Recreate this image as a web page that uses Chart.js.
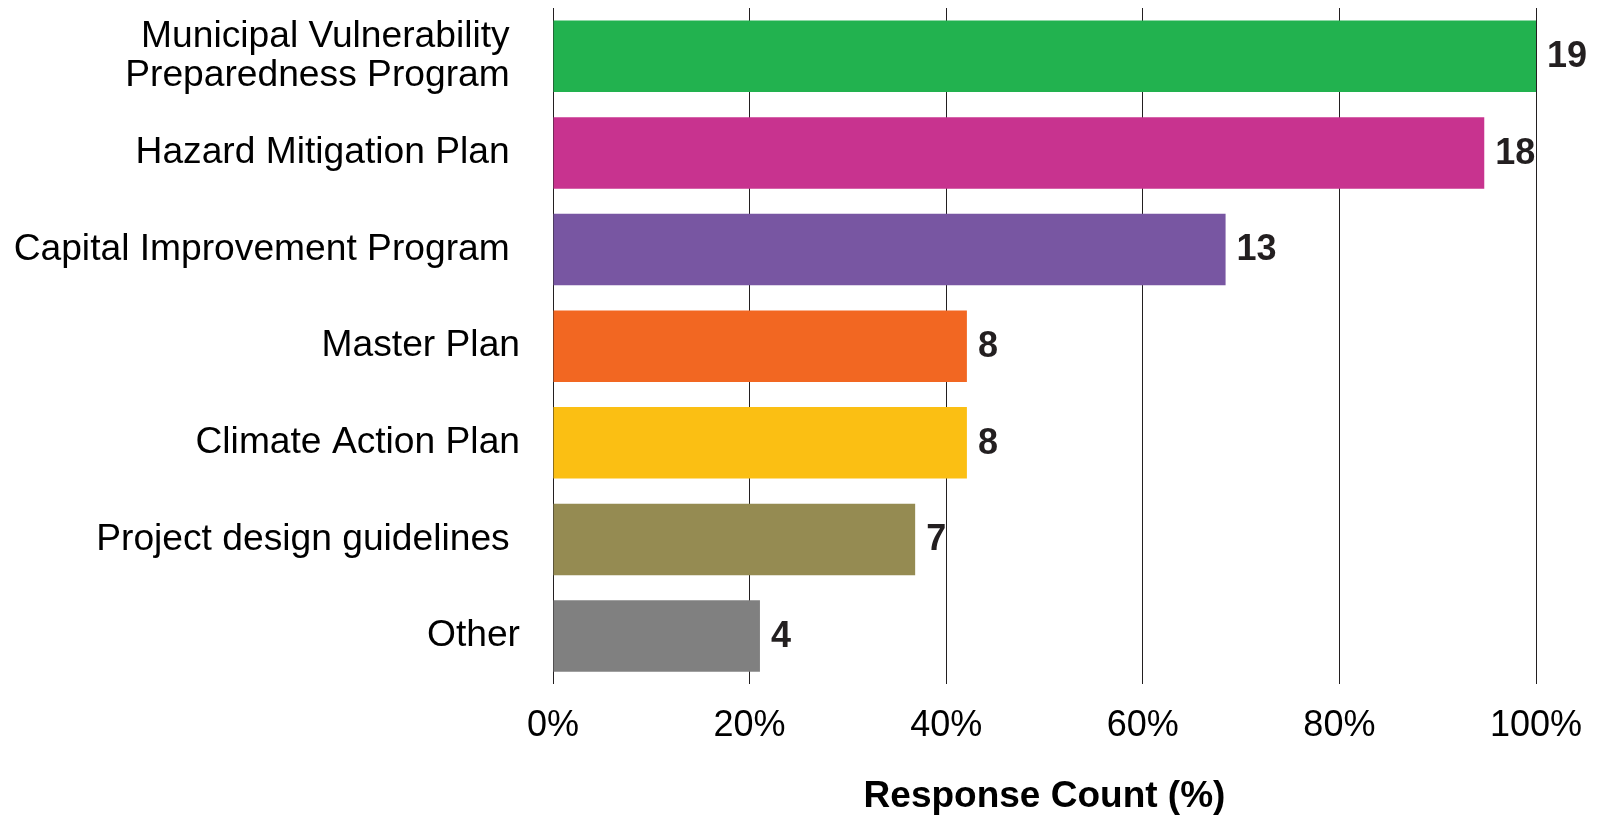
<!DOCTYPE html>
<html>
<head>
<meta charset="utf-8">
<script src="https://cdn.jsdelivr.net/npm/chart.js@4"></script>
<style>
  html, body { margin: 0; padding: 0; background: #fff; }
  #wrap { width: 1597px; height: 816px; }
</style>
</head>
<body>
<div id="wrap"><canvas id="plans"></canvas></div>
<script>
// plan types (trailing spaces kept as in the source labels)
const categories = [
    ['Municipal Vulnerability ', 'Preparedness Program '],
    'Hazard Mitigation Plan ',
    'Capital Improvement Program ',
    'Master Plan',
    'Climate Action Plan',
    'Project design guidelines ',
    'Other'
];
const counts = [19, 18, 13, 8, 8, 7, 4];
const totalResponses = 19;
const tickPercents = [0, 20, 40, 60, 80, 100];
const barColors = ['#22b24f', '#c8338f', '#7856a2', '#f26722', '#fbbf13', '#958b52', '#808080'];

const FONT = '"Liberation Sans", Arial, sans-serif';

// count written just past the end of each bar
const countLabels = {
    id: 'countLabels',
    afterDatasetsDraw(chart) {
        const ctx = chart.ctx;
        const meta = chart.getDatasetMeta(0);
        ctx.save();
        ctx.font = 'bold 36px ' + FONT;
        ctx.fillStyle = '#231f20';
        ctx.textAlign = 'left';
        ctx.textBaseline = 'middle';
        meta.data.forEach((bar, i) => {
            ctx.fillText(String(counts[i]), bar.x + 11, bar.y + 1);
        });
        ctx.restore();
    }
};

new Chart(document.getElementById('plans'), {
    type: 'bar',
    plugins: [countLabels],
    data: {
        labels: categories,
        datasets: [{
            data: counts,
            backgroundColor: barColors,
            borderWidth: 0,
            barPercentage: 0.74,
            categoryPercentage: 1
        }]
    },
    options: {
        indexAxis: 'y',
        responsive: true,
        maintainAspectRatio: false,
        animation: false,
        layout: { padding: { top: 8, right: 61, bottom: -3, left: 0 } },
        plugins: {
            legend: { display: false },
            tooltip: { enabled: false }
        },
        scales: {
            x: {
                min: 0,
                max: totalResponses,
                z: 1, // gridlines sit over the bars
                afterBuildTicks: (scale) => {
                    scale.ticks = tickPercents.map(p => ({ value: p / 100 * totalResponses }));
                },
                afterFit: (scale) => { scale.paddingLeft = 0; scale.paddingRight = 0; },
                grid: { color: '#231f20', lineWidth: 1, drawTicks: false },
                border: { display: false },
                ticks: {
                    padding: 20,
                    color: '#000',
                    font: { family: FONT, size: 36 },
                    callback: (v) => Math.round(v / totalResponses * 100) + '%'
                },
                title: {
                    display: true,
                    text: 'Response Count (%)',
                    color: '#000',
                    font: { family: FONT, size: 37, weight: 'bold' },
                    padding: { top: 7, bottom: 0 }
                }
            },
            y: {
                grid: { display: false, drawTicks: false },
                border: { display: false },
                afterFit: (scale) => {
                    scale.width = 553;
                    scale.paddingTop = 0;
                    scale.paddingBottom = 0;
                },
                ticks: {
                    padding: 33,
                    color: '#000',
                    font: { family: FONT, size: 37.2, lineHeight: 1.07 }
                }
            }
        }
    }
});
</script>
</body>
</html>
